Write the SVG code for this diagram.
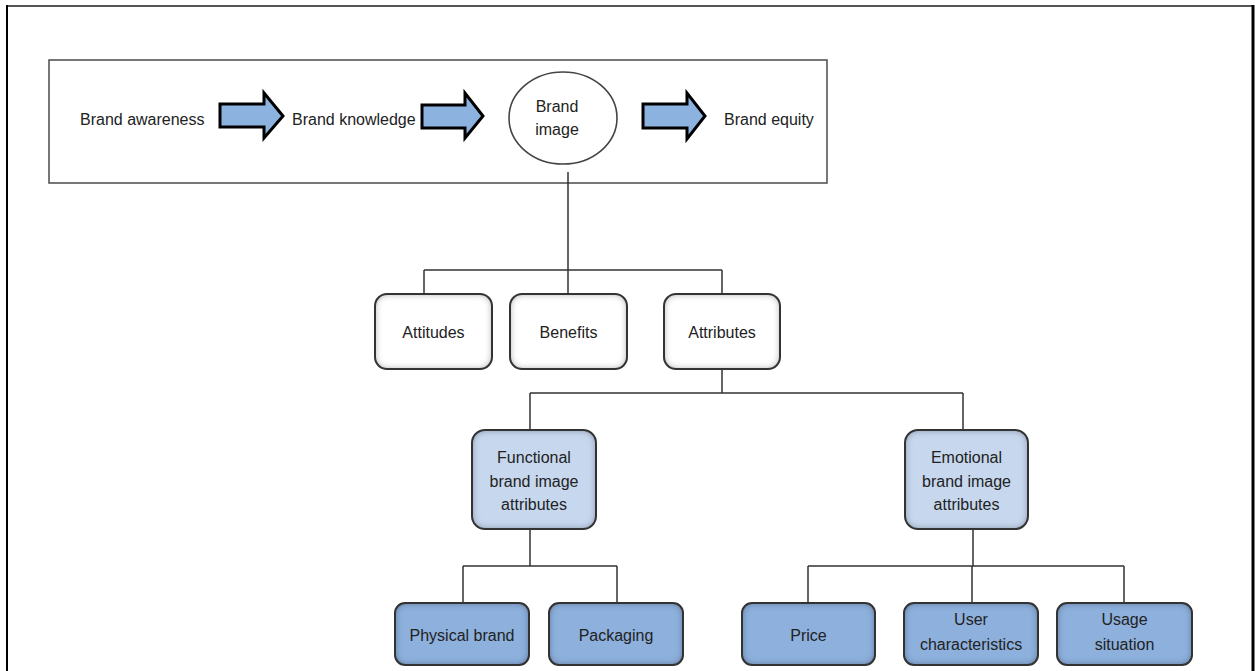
<svg xmlns="http://www.w3.org/2000/svg" width="1255" height="671" viewBox="0 0 1255 671">
  <defs>
    <!-- soft inner shading along the edges of the rounded boxes -->
    <filter id="inset" x="-10%" y="-10%" width="120%" height="120%">
      <feComponentTransfer in="SourceAlpha" result="inv">
        <feFuncA type="table" tableValues="1 0"/>
      </feComponentTransfer>
      <feGaussianBlur in="inv" stdDeviation="3.5" result="blur"/>
      <feFlood flood-color="#000" flood-opacity="0.75"/>
      <feComposite in2="blur" operator="in" result="shadow"/>
      <feComposite in="shadow" in2="SourceAlpha" operator="in" result="inner"/>
      <feMerge>
        <feMergeNode in="SourceGraphic"/>
        <feMergeNode in="inner"/>
      </feMerge>
    </filter>
    <style>
      text { font-family: "Liberation Sans", Arial, sans-serif; font-size: 16px; fill: #222; }
      .c { text-anchor: middle; }
      .panel { fill: #fff; stroke: #555; stroke-width: 1.6; }
      .flow { fill: #8cb2e0; stroke: #000; stroke-width: 3; stroke-linejoin: miter; }
      .oval { fill: #fff; stroke: #444; stroke-width: 1.6; }
      .fill { filter: url(#inset); }
      .edge { fill: none; stroke: #333; stroke-width: 2; }
      .w { fill: #fff; }
      .lb { fill: #c6d7ee; }
      .mb { fill: #8db0dd; }
      .link { fill: none; stroke: #333; stroke-width: 1.5; }
    </style>
  </defs>

  <!-- page frame -->
  <g id="frame">
    <line x1="7" y1="6" x2="1253" y2="6" stroke="#555" stroke-width="2"/>
    <line x1="7" y1="5" x2="7" y2="671" stroke="#000" stroke-width="2"/>
    <line x1="1253" y1="5" x2="1253" y2="671" stroke="#000" stroke-width="3"/>
  </g>

  <!-- brand chain panel -->
  <g id="chain">
    <rect class="panel" x="49" y="60" width="778" height="123"/>
    <g id="awareness"><text x="80" y="125">Brand awareness</text></g>
    <g id="arrow1"><path class="flow" d="M220,104 H264 V93 L283,116 L264,138 V127 H220 Z"/></g>
    <g id="knowledge"><text x="292" y="125">Brand knowledge</text></g>
    <g id="arrow2"><path class="flow" d="M422,105 H465 V93 L483,116 L465,138 V128 H422 Z"/></g>
    <g id="image">
      <ellipse class="oval" cx="563" cy="118" rx="54" ry="46"/>
      <text class="c" x="557" y="112">Brand</text>
      <text class="c" x="557" y="135">image</text>
    </g>
    <g id="arrow3"><path class="flow" d="M643,104 H687 V93 L705,116 L687,139 V128 H643 Z"/></g>
    <g id="equity"><text x="724" y="125">Brand equity</text></g>
  </g>

  <!-- connectors -->
  <g id="connectors">
    <path class="link" d="M568,172 V270 M424,270 H722 M424,270 V294 M568,270 V294 M722,270 V294"/>
    <path class="link" d="M722,369 V393 M530,393 H963 M530,393 V430 M963,393 V430"/>
    <path class="link" d="M530,529 V566 M463,566 H617 M463,566 V603 M617,566 V603"/>
    <path class="link" d="M973,529 V566 M808,566 H1124 M808,566 V603 M972,566 V603 M1124,566 V603"/>
  </g>

  <!-- second level -->
  <g id="attitudes">
    <rect class="fill w" x="375" y="294" width="117" height="75" rx="12"/>
    <rect class="edge" x="375" y="294" width="117" height="75" rx="12"/>
    <text class="c" x="433.5" y="338">Attitudes</text>
  </g>
  <g id="benefits">
    <rect class="fill w" x="510" y="294" width="117" height="75" rx="12"/>
    <rect class="edge" x="510" y="294" width="117" height="75" rx="12"/>
    <text class="c" x="568.5" y="338">Benefits</text>
  </g>
  <g id="attributes">
    <rect class="fill w" x="664" y="294" width="116" height="75" rx="12"/>
    <rect class="edge" x="664" y="294" width="116" height="75" rx="12"/>
    <text class="c" x="722" y="338">Attributes</text>
  </g>

  <!-- third level -->
  <g id="functional">
    <rect class="fill lb" x="472" y="430" width="124" height="99" rx="13"/>
    <rect class="edge" x="472" y="430" width="124" height="99" rx="13"/>
    <text class="c" x="534" y="463">Functional</text>
    <text class="c" x="534" y="486.5">brand image</text>
    <text class="c" x="534" y="510">attributes</text>
  </g>
  <g id="emotional">
    <rect class="fill lb" x="905" y="430" width="123" height="99" rx="13"/>
    <rect class="edge" x="905" y="430" width="123" height="99" rx="13"/>
    <text class="c" x="966.5" y="463">Emotional</text>
    <text class="c" x="966.5" y="486.5">brand image</text>
    <text class="c" x="966.5" y="510">attributes</text>
  </g>

  <!-- fourth level -->
  <g id="physical">
    <rect class="fill mb" x="395" y="603" width="134" height="62" rx="10"/>
    <rect class="edge" x="395" y="603" width="134" height="62" rx="10"/>
    <text class="c" x="462" y="641">Physical brand</text>
  </g>
  <g id="packaging">
    <rect class="fill mb" x="549" y="603" width="134" height="62" rx="10"/>
    <rect class="edge" x="549" y="603" width="134" height="62" rx="10"/>
    <text class="c" x="616" y="641">Packaging</text>
  </g>
  <g id="price">
    <rect class="fill mb" x="742" y="603" width="133" height="62" rx="10"/>
    <rect class="edge" x="742" y="603" width="133" height="62" rx="10"/>
    <text class="c" x="808.5" y="641">Price</text>
  </g>
  <g id="user">
    <rect class="fill mb" x="904" y="603" width="134" height="62" rx="10"/>
    <rect class="edge" x="904" y="603" width="134" height="62" rx="10"/>
    <text class="c" x="971" y="625">User</text>
    <text class="c" x="971" y="650">characteristics</text>
  </g>
  <g id="usage">
    <rect class="fill mb" x="1057" y="603" width="135" height="62" rx="10"/>
    <rect class="edge" x="1057" y="603" width="135" height="62" rx="10"/>
    <text class="c" x="1124.5" y="625">Usage</text>
    <text class="c" x="1124.5" y="650">situation</text>
  </g>
</svg>
